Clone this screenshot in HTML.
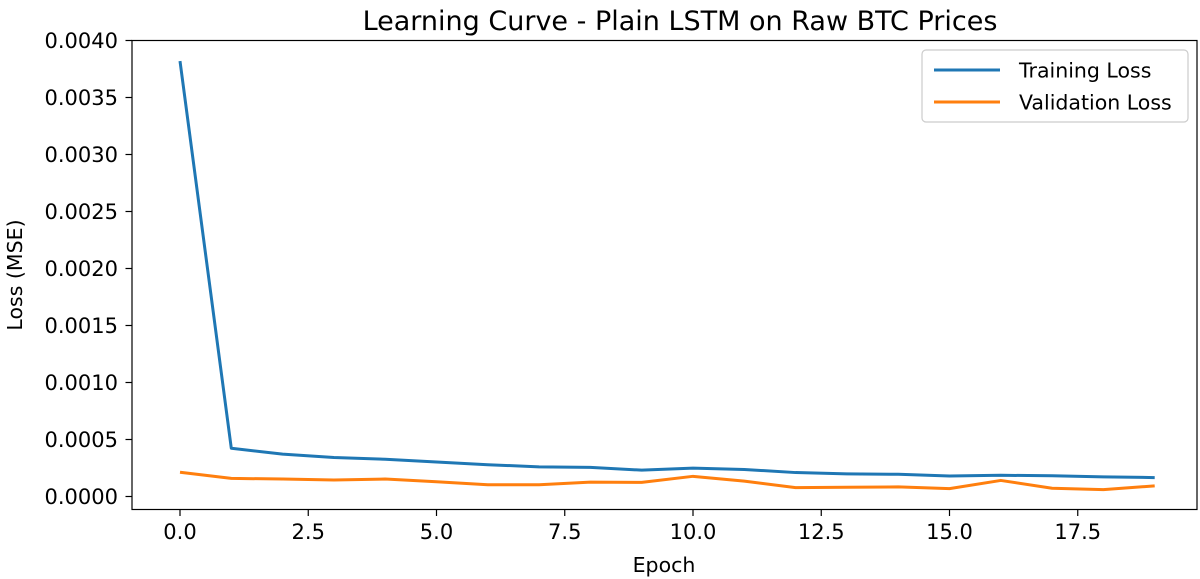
<!DOCTYPE html>
<html><head><meta charset="utf-8"><style>
body{margin:0;background:#fff}
svg{display:block;font-family:"DejaVu Sans","Liberation Sans",sans-serif}
</style></head><body>
<svg id="chart" width="1200" height="579">
<rect x="0" y="0" width="1200" height="579" fill="#fff"/>
<text x="680" y="30" font-size="27" text-anchor="middle" fill="#000">Learning Curve - Plain LSTM on Raw BTC Prices</text>
<text x="664" y="572" font-size="20.5" text-anchor="middle">Epoch</text>
<text x="22" y="275" font-size="20.5" text-anchor="middle" transform="rotate(-90 22 275)">Loss (MSE)</text>
<g id="ticks"></g>
<g id="series"></g>
<rect x="132" y="40.5" width="1065" height="469" fill="none" stroke="#000" stroke-width="1.2"/>
<g>
<rect x="922" y="50" width="266" height="72" rx="4" fill="#fff" stroke="#ccc" stroke-width="1.2"/>
<line x1="934" y1="70" x2="1000" y2="70" stroke="#1f77b4" stroke-width="3"/>
<text x="1019" y="77.5" font-size="20.5">Training Loss</text>
<line x1="934" y1="102" x2="1000" y2="102" stroke="#ff7f0e" stroke-width="3"/>
<text x="1019" y="109.5" font-size="20.5">Validation Loss</text>
</g>
</svg>
<script>
const epochs=[0,1,2,3,4,5,6,7,8,9,10,11,12,13,14,15,16,17,18,19];
const trainLoss=[0.00382,0.000423,0.000372,0.000342,0.000327,0.000303,0.000279,0.00026,0.000255,0.000231,0.000249,0.000237,0.00021,0.000198,0.000195,0.00018,0.000186,0.000182,0.000172,0.000166];
const valLoss=[0.000213,0.000159,0.000153,0.000145,0.000153,0.000129,0.000103,0.000103,0.000126,0.000124,0.000177,0.000135,0.000078,0.000081,0.000084,0.000069,0.000141,0.000072,0.00006,0.000093];
const xTicks=[0,2.5,5,7.5,10,12.5,15,17.5];
const xTickLabels=["0.0","2.5","5.0","7.5","10.0","12.5","15.0","17.5"];
const yTicks=[0,0.0005,0.001,0.0015,0.002,0.0025,0.003,0.0035,0.004];
const yTickLabels=["0.0000","0.0005","0.0010","0.0015","0.0020","0.0025","0.0030","0.0035","0.0040"];
const NS="http://www.w3.org/2000/svg";
const xs=v=>180+v*51.3;
const ys=v=>496.5-v*114000;
const tg=document.getElementById('ticks');
xTicks.forEach((t,i)=>{
 const l=document.createElementNS(NS,'line');
 l.setAttribute('x1',xs(t));l.setAttribute('x2',xs(t));l.setAttribute('y1',509.5);l.setAttribute('y2',516);l.setAttribute('stroke','#000');l.setAttribute('stroke-width','1.2');
 
 
 tg.appendChild(l);
 const tx=document.createElementNS(NS,'text');
 tx.setAttribute('x',xs(t));tx.setAttribute('y',539);tx.setAttribute('font-size','21');tx.setAttribute('text-anchor','middle');
 tx.textContent=xTickLabels[i];
 
 
 tg.appendChild(tx);
});
yTicks.forEach((t,i)=>{
 const l=document.createElementNS(NS,'line');
 l.setAttribute('x1',125.5);l.setAttribute('x2',132);l.setAttribute('y1',ys(t));l.setAttribute('y2',ys(t));l.setAttribute('stroke','#000');l.setAttribute('stroke-width','1.2');
 
 
 tg.appendChild(l);
 const tx=document.createElementNS(NS,'text');
 tx.setAttribute('x',118);tx.setAttribute('y',ys(t)+7.5);tx.setAttribute('font-size','21');tx.setAttribute('text-anchor','end');
 tx.textContent=yTickLabels[i];
 
 
 tg.appendChild(tx);
});
const sg=document.getElementById('series');
function line(vals,color,name){
 const p=document.createElementNS(NS,'polyline');
 p.setAttribute('points',vals.map((v,i)=>xs(epochs[i])+','+ys(v)).join(' '));
 p.setAttribute('fill','none');p.setAttribute('stroke',color);p.setAttribute('stroke-width','3');p.setAttribute('stroke-linejoin','round');
 
 
 sg.appendChild(p);
}
line(trainLoss,'#1f77b4','training-loss-line');
line(valLoss,'#ff7f0e','validation-loss-line');
</script>
</body></html>
